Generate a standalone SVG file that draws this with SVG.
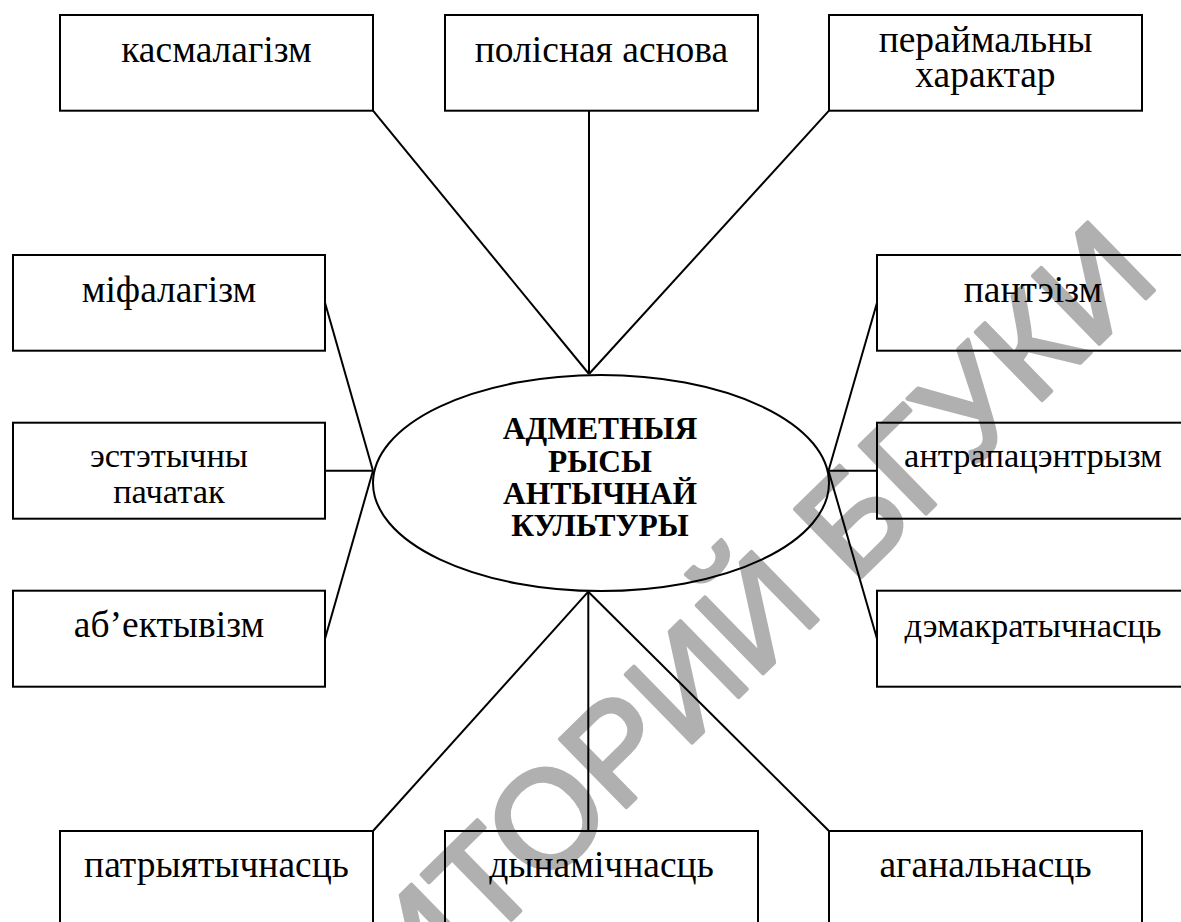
<svg xmlns="http://www.w3.org/2000/svg" width="1181" height="922" viewBox="0 0 1181 922">
<style>
.bg{fill:#ffffff}
.box{fill:none;stroke:#000;stroke-width:2}
.conn line{stroke:#000;stroke-width:2}
.lbl{font-family:"Liberation Serif","Times New Roman",serif;font-size:37.5px;fill:#000;text-anchor:middle}
.sm{font-size:34.5px}
.ctr{font-family:"Liberation Serif","Times New Roman",serif;font-size:31.5px;font-weight:bold;fill:#000;text-anchor:middle}
.wm{font-family:"Liberation Sans",Arial,sans-serif;font-size:138px;fill:#b0b0b0;stroke:#b0b0b0;stroke-width:4;stroke-linejoin:round}
</style>
<rect class="bg" x="0" y="0" width="1181" height="922"/>
<text class="wm" transform="translate(76.3,1345.7) rotate(-44.4)">РЕПОЗИТОРИЙ БГУКИ</text>
<g id="connectors" class="conn">
<line x1="373" y1="110.7" x2="589" y2="374"/>
<line x1="589" y1="110.7" x2="589" y2="374"/>
<line x1="829" y1="110.7" x2="589" y2="374"/>
<line x1="325" y1="302.8" x2="373" y2="470.7"/>
<line x1="325" y1="470.7" x2="373" y2="470.7"/>
<line x1="325" y1="638.7" x2="373" y2="470.7"/>
<line x1="877" y1="302.8" x2="828.5" y2="470.7"/>
<line x1="877" y1="470.7" x2="828.5" y2="470.7"/>
<line x1="877" y1="638.7" x2="828.5" y2="470.7"/>
<line x1="373" y1="831" x2="588.3" y2="591.7"/>
<line x1="588.3" y1="831" x2="588.3" y2="591.7"/>
<line x1="829" y1="831" x2="588.3" y2="591.7"/>
</g>
<g id="center">
<ellipse class="box" cx="601" cy="483" rx="228" ry="108"/>
<text class="ctr" x="600" y="439">АДМЕТНЫЯ</text>
<text class="ctr" x="600" y="472">РЫСЫ</text>
<text class="ctr" x="600" y="504">АНТЫЧНАЙ</text>
<text class="ctr" x="600" y="536">КУЛЬТУРЫ</text>
</g>
<g id="n-kasmalagizm"><rect class="box" x="60" y="15" width="313" height="95.7"/><text class="lbl" x="216.5" y="62">касмалагізм</text></g>
<g id="n-polisnaya"><rect class="box" x="445" y="15" width="313" height="95.7"/><text class="lbl" x="601.5" y="62">полісная аснова</text></g>
<g id="n-peraimalny"><rect class="box" x="829" y="15" width="313" height="95.7"/><text class="lbl" x="985.5" y="52">пераймальны</text><text class="lbl" x="985.5" y="87">характар</text></g>
<g id="n-mifalagizm"><rect class="box" x="13" y="255" width="312" height="95.7"/><text class="lbl" x="169" y="302">міфалагізм</text></g>
<g id="n-estetychny"><rect class="box" x="13" y="422.7" width="312" height="96"/><text class="lbl sm" x="169" y="466.7">эстэтычны</text><text class="lbl sm" x="169" y="503">пачатак</text></g>
<g id="n-abektyvizm"><rect class="box" x="13" y="590.7" width="312" height="96"/><text class="lbl" x="169" y="637">аб’ектывізм</text></g>
<g id="n-panteizm"><rect class="box" x="877" y="255" width="313" height="95.7"/><text class="lbl" x="1033" y="302">пантэізм</text></g>
<g id="n-antrapa"><rect class="box" x="877" y="422.7" width="313" height="96"/><text class="lbl sm" x="1033" y="467">антрапацэнтрызм</text></g>
<g id="n-demakr"><rect class="box" x="877" y="590.7" width="313" height="96"/><text class="lbl sm" x="1033" y="637">дэмакратычнасць</text></g>
<g id="n-patryyat"><rect class="box" x="60" y="831" width="313" height="96"/><text class="lbl" x="216.5" y="877">патрыятычнасць</text></g>
<g id="n-dynamich"><rect class="box" x="445" y="831" width="313" height="96"/><text class="lbl" x="601.5" y="877">дынамічнасць</text></g>
<g id="n-aganal"><rect class="box" x="829" y="831" width="313" height="96"/><text class="lbl" x="985.5" y="877">аганальнасць</text></g>
</svg>
